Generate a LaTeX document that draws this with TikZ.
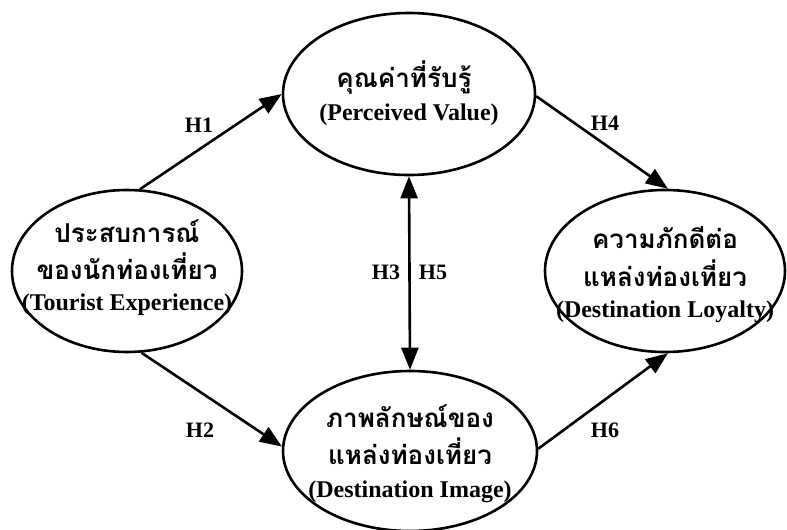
\documentclass[tikz,border=0pt]{standalone}
\usepackage{fontspec}
\setmainfont{Liberation Serif}
\newfontfamily\thaifont[Script=Thai]{Loma}
\usetikzlibrary{shapes.geometric,arrows.meta}
\begin{document}
\begin{tikzpicture}[x=1pt,y=-1pt,
  ell/.style={draw, ellipse, line width=2.6pt, inner sep=0pt},
  th/.style={font=\thaifont\bfseries\fontsize{26}{26}\selectfont, inner sep=0pt},
  en/.style={font=\bfseries\fontsize{24}{24}\selectfont, inner sep=0pt},
  hl/.style={font=\bfseries\fontsize{22}{22}\selectfont, inner sep=0pt},
  arr/.style={line width=2.6pt, -{Triangle[length=22pt,width=17pt]}},
  darr/.style={line width=2.6pt, {Triangle[length=22pt,width=17pt]}-{Triangle[length=22pt,width=17pt]}},
]
\useasboundingbox (0,0) rectangle (787,530);
% ellipses
\node[ell, minimum width=252pt, minimum height=162pt] (pv) at (409,94) {};
\node[ell, minimum width=230pt, minimum height=162pt] (te) at (127,271) {};
\node[ell, minimum width=240pt, minimum height=162pt] (dl) at (665,271) {};
\node[ell, minimum width=254pt, minimum height=160pt] (di) at (410,451) {};
% texts
\node[th] (pv1) at (404,78) {คุณค่าที่รับรู้};
\node[en] (pv2) at (409,115) {(Perceived Value)};
\node[th] (te1) at (127,231) {ประสบการณ์};
\node[th] (te2) at (127,266) {ของนักท่องเที่ยว};
\node[en] (te3) at (127,305) {(Tourist Experience)};
\node[th] (dl1) at (665,238) {ความภักดีต่อ};
\node[th] (dl2) at (665,273) {แหล่งท่องเที่ยว};
\node[en] (dl3) at (665,312) {(Destination Loyalty)};
\node[th] (di1) at (410,416) {ภาพลักษณ์ของ};
\node[th] (di2) at (410,451) {แหล่งท่องเที่ยว};
\node[en] (di3) at (410,492) {(Destination Image)};
% connectors
\draw[arr] (te.81) -- (pv.180);
\draw[arr] (te.-80) -- (di.178);
\draw[arr] (pv.-1) -- (dl.88);
\draw[arr] (di.1) -- (dl.-88);
\draw[darr] (pv.south) -- (di.north);
% labels
\node[hl] (h1) at (199,125) {H1};
\node[hl] (h2) at (200,430) {H2};
\node[hl] (h3) at (386,272) {H3};
\node[hl] (h5) at (433,272) {H5};
\node[hl] (h4) at (605,123) {H4};
\node[hl] (h6) at (605,430) {H6};
\end{tikzpicture}
\end{document}
